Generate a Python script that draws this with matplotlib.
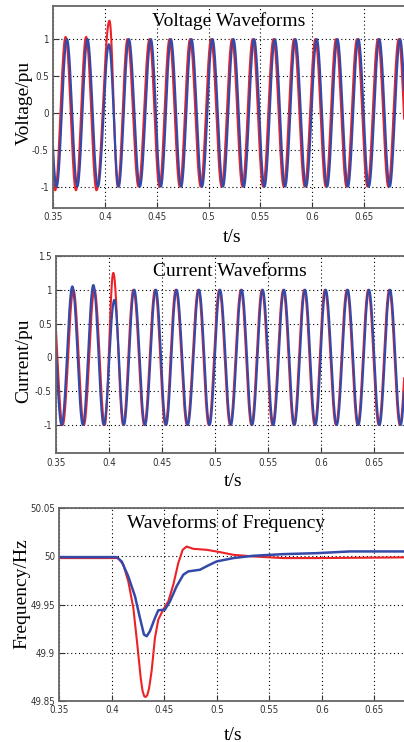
import matplotlib.pyplot as plt
import numpy as np
from matplotlib import font_manager

# ---- voltage: extrema (time [s], value [pu])
v_blue_t = [0.3434, 0.3535, 0.3635, 0.3735, 0.3833, 0.3933, 0.4040, 0.4133, 0.4232,
            0.4338, 0.4444, 0.4540, 0.4637, 0.4736, 0.4835, 0.4937, 0.5038, 0.5139,
            0.5240, 0.5340, 0.5439, 0.5539, 0.5639, 0.5738, 0.5837, 0.5940, 0.6043,
            0.6143, 0.6242, 0.6343, 0.6444, 0.6545, 0.6646, 0.6746, 0.6846, 0.6946]
v_blue_v = [1.0, -1.0, 1.0, -1.0, 1.0, -1.0, 0.93, -1.0, 1.0,
            -1.0, 1.0, -1.0, 1.0, -1.0, 1.0, -1.0, 1.0, -1.0,
            1.0, -1.0, 1.0, -1.0, 1.0, -1.0, 1.0, -1.0, 1.0,
            -1.0, 1.0, -1.0, 1.0, -1.0, 1.0, -1.0, 1.0, -1.0]
v_red_t = [0.3421, 0.3522, 0.3622, 0.3722, 0.3820, 0.3920, 0.4045, 0.4125, 0.4219,
           0.4325, 0.4431, 0.4527, 0.4624, 0.4723, 0.4822, 0.4924, 0.5025, 0.5126,
           0.5227, 0.5327, 0.5426, 0.5526, 0.5626, 0.5725, 0.5824, 0.5927, 0.6030,
           0.6130, 0.6229, 0.6330, 0.6431, 0.6532, 0.6633, 0.6733, 0.6833, 0.6933]
v_red_v = [1.03, -1.05, 1.03, -1.05, 1.03, -1.05, 1.25, -1.0, 1.0,
           -1.0, 1.0, -1.0, 1.0, -1.0, 1.0, -1.0, 1.0, -1.0,
           1.0, -1.0, 1.0, -1.0, 1.0, -1.0, 1.0, -1.0, 1.0,
           -1.0, 1.0, -1.0, 1.0, -1.0, 1.0, -1.0, 1.0, -1.0]

# ---- current: extrema
c_blue_t = [0.3453, 0.3553, 0.3654, 0.3753, 0.3852, 0.3950, 0.4050, 0.4140, 0.4237,
            0.4339, 0.4441, 0.4538, 0.4636, 0.4742, 0.4848, 0.4947, 0.5046, 0.5148,
            0.5250, 0.5349, 0.5448, 0.5548, 0.5649, 0.5748, 0.5847, 0.5945, 0.6042,
            0.6146, 0.6249, 0.6350, 0.6450, 0.6549, 0.6648, 0.6748, 0.6848]
c_blue_v = [1.0, -1.0, 1.05, -1.0, 1.07, -1.0, 0.85, -1.0, 1.0,
            -1.0, 1.0, -1.0, 1.0, -1.0, 1.0, -1.0, 1.0, -1.0,
            1.0, -1.0, 1.0, -1.0, 1.0, -1.0, 1.0, -1.0, 1.0,
            -1.0, 1.0, -1.0, 1.0, -1.0, 1.0, -1.0, 1.0]
c_red_t = [0.3463, 0.3563, 0.3664, 0.3763, 0.3862, 0.3960, 0.4040, 0.4133, 0.4230,
           0.4332, 0.4434, 0.4531, 0.4629, 0.4735, 0.4841, 0.4940, 0.5039, 0.5141,
           0.5243, 0.5342, 0.5441, 0.5541, 0.5642, 0.5741, 0.5840, 0.5938, 0.6035,
           0.6139, 0.6242, 0.6343, 0.6443, 0.6542, 0.6641, 0.6741, 0.6841]
c_red_v = [1.0, -1.0, 1.0, -1.0, 1.0, -1.0, 1.25, -1.0, 1.0,
           -1.0, 1.0, -1.0, 1.0, -1.0, 1.0, -1.0, 1.0, -1.0,
           1.0, -1.0, 1.0, -1.0, 1.0, -1.0, 1.0, -1.0, 1.0,
           -1.0, 1.0, -1.0, 1.0, -1.0, 1.0, -1.0, 1.0]

# ---- frequency traces
f_blue_t = [0.35, 0.4046, 0.4094, 0.4157, 0.4221, 0.4268, 0.4306, 0.4332, 0.4363,
            0.4411, 0.4443, 0.4506, 0.4554, 0.4617, 0.4681, 0.4729, 0.4840, 0.4919,
            0.4998, 0.5157, 0.5348, 0.5633, 0.5951, 0.6268, 0.6783]
f_blue_v = [49.9993, 49.9993, 49.9948, 49.9793, 49.9586, 49.9362, 49.9190, 49.9172, 49.9224,
            49.9362, 49.9441, 49.9448, 49.9534, 49.9690, 49.9810, 49.9845, 49.9862, 49.9907,
            49.9948, 49.9983, 50.0007, 50.0024, 50.0034, 50.0052, 50.0052]
f_red_t = [0.35, 0.4062, 0.4110, 0.4157, 0.4205, 0.4243, 0.4275, 0.4292, 0.4308, 0.4322,
           0.4338, 0.4355, 0.4379, 0.4411, 0.4443, 0.4490, 0.4538, 0.4586, 0.4633, 0.4675,
           0.4713, 0.4776, 0.4903, 0.5030, 0.5157, 0.5348, 0.5633, 0.5951, 0.6783]
f_red_v = [49.9983, 49.9983, 49.9914, 49.9741, 49.9466, 49.9086, 49.8741, 49.8610, 49.8550, 49.8541,
           49.8560, 49.8630, 49.8810, 49.9155, 49.9345, 49.9448, 49.9534, 49.9707, 49.9931, 50.0069,
           50.0103, 50.0079, 50.0069, 50.0045, 50.0017, 50.0000, 49.9983, 49.9983, 49.9990]

xticks = [0.35, 0.4, 0.45, 0.5, 0.55, 0.6, 0.65]
xticklabels = ["0.35", "0.4", "0.45", "0.5", "0.55", "0.6", "0.65"]

RED = "#ec2226"
BLUE = "#3549a8"
SERIF = ["Liberation Serif", "DejaVu Serif"]

# narrow face for the tick labels if one is around
names = {f.name for f in font_manager.fontManager.ttflist}
if "Liberation Sans Narrow" in names:
    NARROW = dict(family="Liberation Sans Narrow", fontsize=8)
else:
    NARROW = dict(family="DejaVu Sans", fontstretch="condensed", fontsize=7)


def wave(te, ve, n=40):
    # half-cosine between successive extrema
    tt, yy = [], []
    for i in range(len(te) - 1):
        s = np.linspace(0, 1, n, endpoint=False)
        tt.append(te[i] + (te[i + 1] - te[i]) * s)
        yy.append(ve[i] + (ve[i + 1] - ve[i]) * (1 - np.cos(np.pi * s)) / 2)
    tt.append([te[-1]])
    yy.append([ve[-1]])
    return np.concatenate(tt), np.concatenate(yy)


def style(ax, xlim, ylim, yticks, yticklabels):
    ax.set_xlim(*xlim)
    ax.set_ylim(*ylim)
    ax.set_xticks(xticks)
    ax.set_xticklabels(xticklabels, **NARROW)
    ax.set_yticks(yticks)
    ax.set_yticklabels(yticklabels, **NARROW)
    ax.tick_params(direction="in", length=4, width=0.8, pad=3, colors="#333333")
    ax.grid(True, color="black", linestyle=(0, (1, 2.5)), linewidth=0.8)
    for sp in ["left", "bottom", "top"]:
        ax.spines[sp].set_color("#666666")
        ax.spines[sp].set_linewidth(1.3)
    ax.spines["right"].set_visible(False)


fig = plt.figure(figsize=(4.04, 7.42), dpi=100)

# voltage
ax1 = fig.add_axes([0.131, 0.7197, 0.869, 0.2723])
t, y = wave(v_red_t, v_red_v)
ax1.plot(t, y, color=RED, lw=1.5)
t, y = wave(v_blue_t, v_blue_v)
ax1.plot(t, y, color=BLUE, lw=1.6)
style(ax1, (0.35, 0.6884), (-1.29, 1.45), [-1, -0.5, 0, 0.5, 1],
      ["-1", "-0.5", "0", "0.5", "1"])
ax1.text(0.5, 0.926, "Voltage Waveforms", transform=ax1.transAxes, ha="center",
         va="center", family=SERIF, fontsize=14)

# current
ax2 = fig.add_axes([0.1386, 0.389, 0.8614, 0.266])
t, y = wave(c_red_t, c_red_v)
ax2.plot(t, y, color=RED, lw=1.5)
t, y = wave(c_blue_t, c_blue_v)
ax2.plot(t, y, color=BLUE, lw=1.6)
style(ax2, (0.35, 0.678), (-1.42, 1.5), [-1, -0.5, 0, 0.5, 1, 1.5],
      ["-1", "-0.5", "0", "0.5", "1", "1.5"])
ax2.text(0.5, 0.92, "Current Waveforms", transform=ax2.transAxes, ha="center",
         va="center", family=SERIF, fontsize=14)

# frequency
ax3 = fig.add_axes([0.1468, 0.0553, 0.8532, 0.2597])
ax3.plot(f_red_t, f_red_v, color=RED, lw=1.5)
ax3.plot(f_blue_t, f_blue_v, color=BLUE, lw=1.8)
style(ax3, (0.35, 0.6783), (49.85, 50.05), [49.85, 49.9, 49.95, 50, 50.05],
      ["49.85", "49.9", "49.95", "50", "50.05"])
ax3.text(226 / 404, 1 - 523.3 / 742, "Waveforms of Frequency", transform=fig.transFigure,
         ha="center", va="center", family=SERIF, fontsize=14)

# axis labels placed like the original
for x, yc, s in [(24, 103.3, "Voltage/pu"), (24, 360.7, "Current/pu"), (22, 594, "Frequency/Hz")]:
    fig.text(x / 404, 1 - yc / 742, s, rotation=90, ha="center", va="center",
             family=SERIF, fontsize=14)
for x, yc in [(231.7, 237), (233, 482), (233, 735)]:
    fig.text(x / 404, 1 - yc / 742, "t/s", ha="center", va="center",
             family=SERIF, fontsize=14)

fig.savefig("out.png", dpi=100)
